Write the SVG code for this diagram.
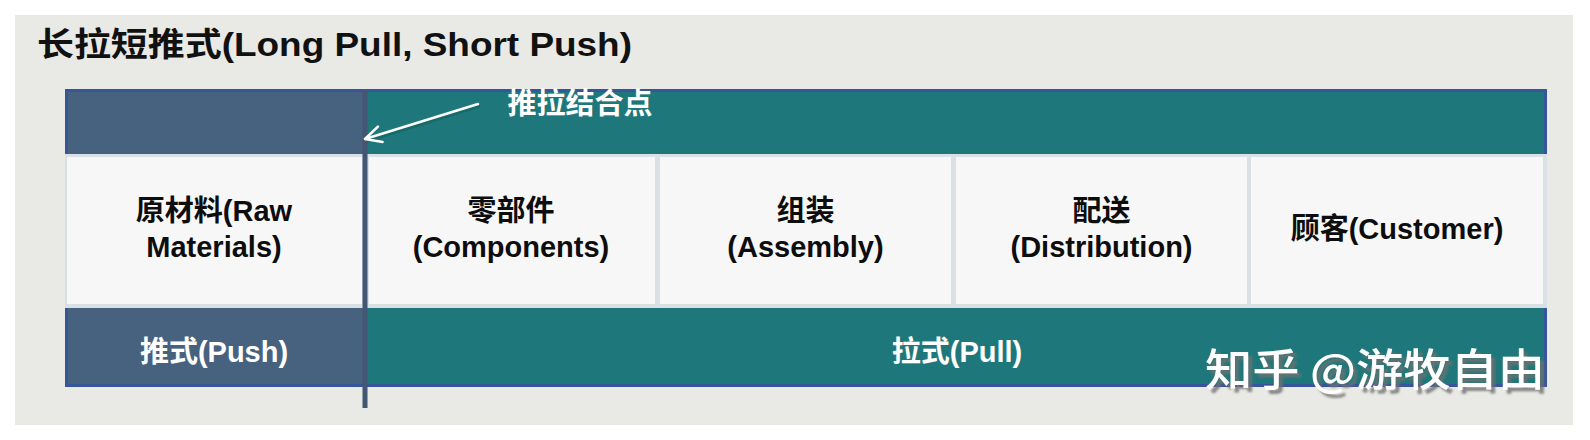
<svg xmlns="http://www.w3.org/2000/svg" width="1590" height="440" viewBox="0 0 1590 440">
  <defs>
    <style>
      .t { font-family: "Liberation Sans", "Noto Sans CJK SC", sans-serif; font-weight: bold; }
      .cell { fill: #f7f7f7; }
      .celltext { font-size: 29px; fill: #0d0d0d; text-anchor: middle; }
      .bartext { font-size: 29px; fill: #ffffff; text-anchor: middle; }
      .slate { fill: #47627e; }
      .teal { fill: #1e787b; }
      .edge { stroke: #37559a; stroke-width: 3; fill: none; }
      .wm { font-family: "Noto Sans CJK SC", "Liberation Sans", sans-serif; font-size: 44px; font-weight: 500; }
    </style>
    <filter id="wmshadow" x="-5%" y="-20%" width="115%" height="150%">
      <feDropShadow dx="4" dy="4" stdDeviation="0.8" flood-color="#6f6f6f" flood-opacity="0.8"/>
    </filter>
    <marker id="openhead" viewBox="0 0 20 20" refX="18" refY="10" markerWidth="20" markerHeight="20" markerUnits="userSpaceOnUse" orient="auto">
      <path d="M2,2 L18,10 L2,18" fill="none" stroke="#ffffff" stroke-width="2.5" stroke-linecap="round" stroke-linejoin="round"/>
    </marker>
  </defs>

  <rect x="0" y="0" width="1590" height="440" fill="#ffffff"/>
  <rect id="panel" x="15" y="15" width="1558" height="410" fill="#e9e9e5"/>

  <text id="title" class="t" x="37" y="56" font-size="33" fill="#111111" textLength="595" lengthAdjust="spacingAndGlyphs">长拉短推式(Long Pull, Short Push)</text>

  <!-- table background (gaps) -->
  <rect x="65" y="89" width="1482" height="298" fill="#d9e1e6"/>

  <g id="top-bar">
    <rect class="slate" x="65" y="89" width="300" height="65"/>
    <rect class="teal" x="365" y="89" width="1182" height="65"/>
    <path class="edge" d="M66.5,154 V90.5 H1545.5 V154"/>
    <text class="t bartext" x="580" y="114">推拉结合点</text>
  </g>

  <g id="cell-raw">
    <rect class="cell" x="67" y="157" width="295" height="147"/>
    <text class="t celltext" x="214" y="221">原材料(Raw</text>
    <text class="t celltext" x="214" y="257">Materials)</text>
  </g>
  <g id="cell-components">
    <rect class="cell" x="369" y="157" width="286" height="147"/>
    <text class="t celltext" x="511" y="221">零部件</text>
    <text class="t celltext" x="511" y="257">(Components)</text>
  </g>
  <g id="cell-assembly">
    <rect class="cell" x="660" y="157" width="291" height="147"/>
    <text class="t celltext" x="805.5" y="221">组装</text>
    <text class="t celltext" x="805.5" y="257">(Assembly)</text>
  </g>
  <g id="cell-distribution">
    <rect class="cell" x="956" y="157" width="291" height="147"/>
    <text class="t celltext" x="1101.5" y="221">配送</text>
    <text class="t celltext" x="1101.5" y="257">(Distribution)</text>
  </g>
  <g id="cell-customer">
    <rect class="cell" x="1251" y="157" width="292" height="147"/>
    <text class="t celltext" x="1397" y="239">顾客(Customer)</text>
  </g>

  <g id="push-bar">
    <rect class="slate" x="65" y="308" width="300" height="79"/>
    <path class="edge" d="M66.5,308 V385.5 H365"/>
    <text class="t bartext" x="214" y="362">推式(Push)</text>
  </g>
  <g id="pull-bar">
    <rect class="teal" x="365" y="308" width="1182" height="79"/>
    <path class="edge" d="M365,385.5 H1545.5 V308"/>
    <text class="t bartext" x="957" y="362">拉式(Pull)</text>
  </g>

  <g id="connectors">
    <line id="divider" x1="365" y1="89" x2="365" y2="408" stroke="#435673" stroke-width="5"/>
    <line x1="480" y1="106" x2="367" y2="141" stroke="#0b4f50" stroke-opacity="0.35" stroke-width="3"/>
    <line id="arrow" x1="478" y1="104" x2="365" y2="139" stroke="#ffffff" stroke-width="2.5" stroke-linecap="round" marker-end="url(#openhead)"/>
  </g>

  <g id="watermark">
    <text class="wm" x="1205" y="386" fill="#ffffff" filter="url(#wmshadow)" textLength="340" lengthAdjust="spacingAndGlyphs">知乎 @游牧自由</text>
  </g>
</svg>
